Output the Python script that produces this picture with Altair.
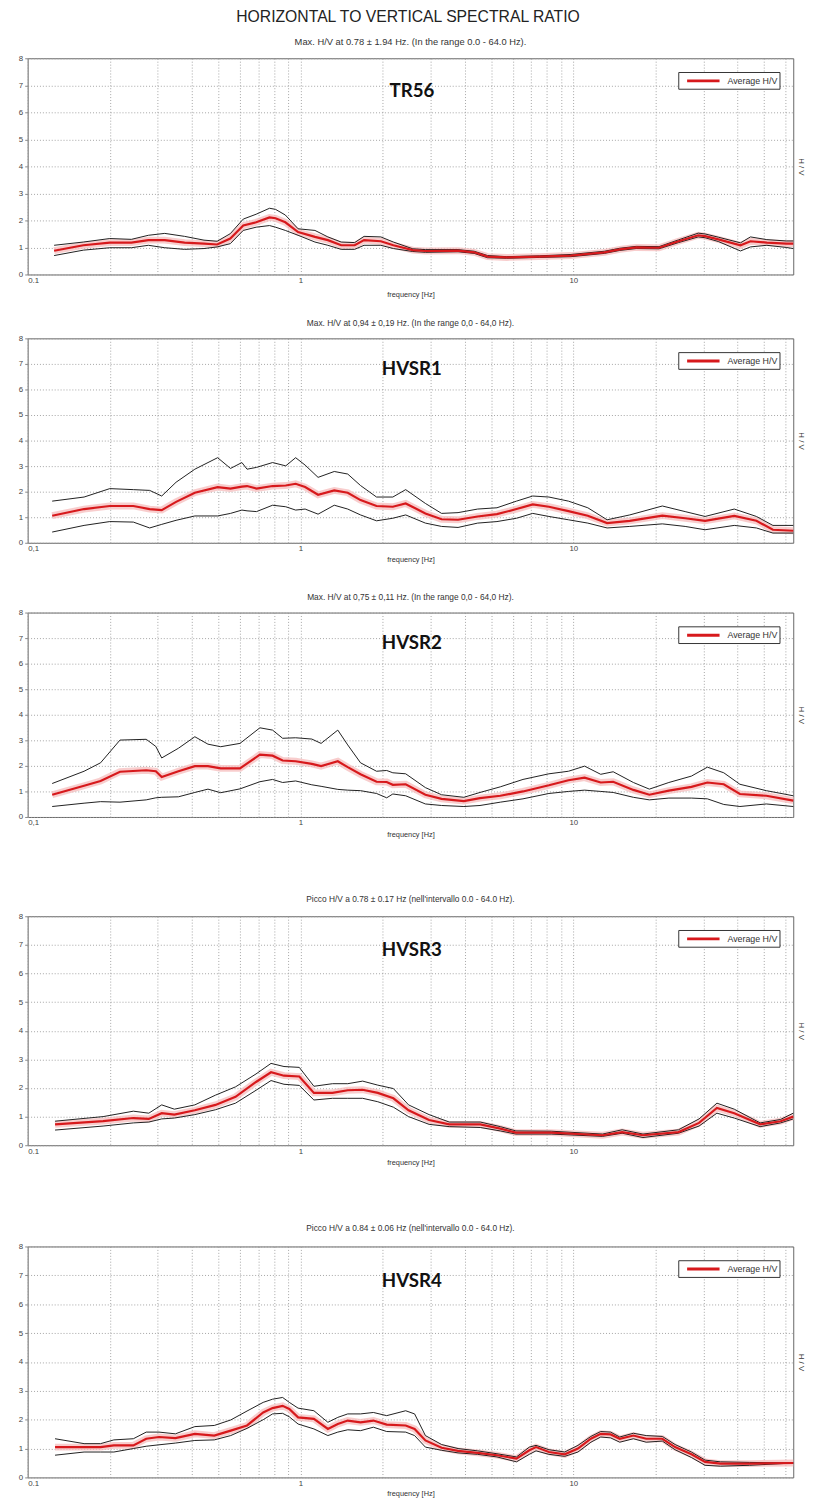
import altair as alt
import pandas as pd

TITLE = "HORIZONTAL TO VERTICAL SPECTRAL RATIO"
LEGEND_LABEL = "Average H/V"
X_TITLE = "frequency [Hz]"
GRID_X = [0.1, 0.2, 0.3, 0.4, 0.5, 0.6, 0.7, 0.8, 0.9, 1, 2, 3, 4, 5, 6, 7, 8, 9, 10, 20, 30, 40, 50, 60]
Y_TICKS = [0, 1, 2, 3, 4, 5, 6, 7, 8]

# ---- Panel 1: TR56
P1_NAME = "TR56"
P1_SUB = "Max. H/V at 0.78 \u00b1 1.94 Hz. (In the range 0.0 - 64.0 Hz)."
P1_F = [0.125, 0.16, 0.2, 0.24, 0.277, 0.318, 0.376, 0.443, 0.495, 0.553, 0.617, 0.688, 0.77, 0.81, 0.88,
        0.98, 1.13, 1.26, 1.41, 1.58, 1.71, 1.97, 2.19, 2.58, 2.87, 3.78, 4.33, 4.85, 5.7, 7.5, 9.8, 13.0,
        14.8, 17.0, 20.6, 24.3, 28.7, 30.4, 34.0, 41.0, 44.6, 51.2, 60.3, 64]
P1_MEAN = [0.88, 1.08, 1.18, 1.18, 1.27, 1.27, 1.18, 1.14, 1.11, 1.33, 1.81, 1.93, 2.11, 2.08, 1.93,
           1.57, 1.39, 1.27, 1.08, 1.08, 1.27, 1.23, 1.08, 0.9, 0.87, 0.88, 0.82, 0.66, 0.63, 0.66, 0.7, 0.82,
           0.93, 1.0, 0.99, 1.23, 1.45, 1.42, 1.3, 1.08, 1.23, 1.18, 1.14, 1.14]
P1_UP = [1.08, 1.2, 1.33, 1.3, 1.45, 1.52, 1.41, 1.27, 1.23, 1.51, 2.05, 2.23, 2.45, 2.41, 2.2,
         1.69, 1.63, 1.39, 1.2, 1.18, 1.41, 1.39, 1.2, 0.95, 0.92, 0.92, 0.86, 0.7, 0.66, 0.69, 0.74, 0.86,
         0.97, 1.04, 1.03, 1.28, 1.53, 1.5, 1.38, 1.17, 1.39, 1.29, 1.24, 1.24]
P1_LO = [0.7, 0.9, 0.99, 0.99, 1.08, 0.99, 0.93, 0.96, 1.02, 1.14, 1.63, 1.75, 1.81, 1.75, 1.63,
         1.45, 1.2, 1.08, 0.93, 0.93, 1.08, 1.08, 0.96, 0.85, 0.82, 0.84, 0.78, 0.62, 0.6, 0.63, 0.66, 0.78,
         0.89, 0.96, 0.95, 1.18, 1.39, 1.36, 1.22, 0.87, 1.02, 1.08, 1.0, 0.96]

# ---- Panel 2: HVSR1
P2_NAME = "HVSR1"
P2_SUB = "Max. H/V at 0,94 \u00b1 0,19 Hz. (In the range 0,0 - 64,0 Hz)."
P2_F = [0.123, 0.161, 0.2, 0.244, 0.28, 0.31, 0.35, 0.41, 0.497, 0.554, 0.61, 0.637, 0.69, 0.79, 0.883,
        0.96, 1.04, 1.16, 1.33, 1.49, 1.66, 1.9, 2.18, 2.43, 2.87, 3.29, 3.78, 4.46, 5.25, 6.19, 7.1, 8.14,
        9.6, 11.3, 13.3, 16.1, 21.2, 25.7, 30.4, 38.9, 46.9, 53.9, 64]
P2_MEAN = [1.06, 1.32, 1.44, 1.44, 1.32, 1.28, 1.6, 1.96, 2.18, 2.12, 2.2, 2.22, 2.12, 2.22, 2.24,
           2.31, 2.18, 1.88, 2.05, 1.96, 1.67, 1.44, 1.41, 1.54, 1.15, 0.92, 0.9, 1.03, 1.12, 1.32, 1.5, 1.41,
           1.24, 1.06, 0.77, 0.86, 1.06, 0.96, 0.86, 1.05, 0.86, 0.51, 0.47]
P2_UP = [1.63, 1.79, 2.12, 2.08, 2.05, 1.83, 2.37, 2.88, 3.33, 2.91, 3.14, 2.88, 2.95, 3.14, 3.01,
         3.33, 3.04, 2.56, 2.79, 2.69, 2.24, 1.79, 1.79, 2.08, 1.54, 1.15, 1.18, 1.32, 1.37, 1.63, 1.83, 1.79,
         1.63, 1.37, 0.9, 1.09, 1.44, 1.22, 1.03, 1.32, 1.03, 0.68, 0.68]
P2_LO = [0.42, 0.68, 0.83, 0.81, 0.58, 0.72, 0.88, 1.05, 1.05, 1.15, 1.28, 1.25, 1.22, 1.47, 1.41,
         1.28, 1.32, 1.12, 1.47, 1.32, 1.09, 0.86, 0.96, 1.09, 0.77, 0.64, 0.6, 0.77, 0.83, 0.96, 1.15, 1.03,
         0.9, 0.77, 0.58, 0.64, 0.74, 0.64, 0.51, 0.68, 0.58, 0.38, 0.38]

# ---- Panel 3: HVSR2
P3_NAME = "HVSR2"
P3_SUB = "Max. H/V at 0,75 \u00b1 0,11 Hz. (In the range 0,0 - 64,0 Hz)."
P3_F = [0.123, 0.161, 0.185, 0.218, 0.272, 0.295, 0.31, 0.357, 0.41, 0.458, 0.51, 0.6, 0.71, 0.79, 0.86,
        0.96, 1.1, 1.19, 1.37, 1.49, 1.66, 1.9, 2.07, 2.18, 2.43, 2.87, 3.29, 3.97, 4.55, 5.4, 6.54, 8.14,
        9.6, 11, 12.6, 14, 16.6, 19, 22.4, 27.1, 31, 35.6, 40.8, 51, 64]
P3_MEAN = [0.87, 1.22, 1.41, 1.77, 1.83, 1.79, 1.56, 1.79, 1.99, 1.99, 1.9, 1.9, 2.44, 2.4, 2.21,
           2.18, 2.08, 1.99, 2.18, 1.95, 1.67, 1.38, 1.37, 1.26, 1.28, 0.87, 0.71, 0.62, 0.74, 0.83, 1.0, 1.24,
           1.44, 1.54, 1.35, 1.38, 1.06, 0.87, 1.03, 1.18, 1.35, 1.28, 0.9, 0.83, 0.64]
P3_UP = [1.31, 1.79, 2.12, 3.01, 3.04, 2.76, 2.31, 2.69, 3.14, 2.85, 2.75, 2.88, 3.49, 3.4, 3.08,
         3.1, 3.05, 2.88, 3.4, 2.82, 2.12, 1.79, 1.82, 1.73, 1.69, 1.15, 0.87, 0.77, 0.96, 1.18, 1.47, 1.69,
         1.79, 1.99, 1.67, 1.77, 1.35, 1.09, 1.35, 1.6, 1.95, 1.73, 1.28, 1.03, 0.83]
P3_LO = [0.41, 0.54, 0.6, 0.58, 0.67, 0.75, 0.77, 0.79, 0.96, 1.09, 0.95, 1.1, 1.38, 1.47, 1.35,
         1.41, 1.26, 1.2, 1.08, 1.05, 1.03, 0.92, 0.75, 0.9, 0.83, 0.51, 0.45, 0.41, 0.45, 0.58, 0.71, 0.92,
         1.0, 1.05, 1.0, 0.96, 0.77, 0.67, 0.74, 0.74, 0.71, 0.49, 0.41, 0.51, 0.41]

# ---- Panel 4: HVSR3
P4_NAME = "HVSR3"
P4_SUB = "Picco H/V a 0.78 \u00b1 0.17 Hz (nell'intervallo 0.0 - 64.0 Hz)."
P4_F = [0.126, 0.189, 0.244, 0.278, 0.31, 0.345, 0.41, 0.488, 0.578, 0.687, 0.78, 0.87, 0.99, 1.12, 1.31,
        1.49, 1.69, 1.92, 2.19, 2.49, 2.96, 3.51, 4.56, 5.4, 6.16, 8.3, 12.8, 15.1, 18, 24.3, 28.9, 33.6,
        38.9, 48.4, 57.5, 64]
P4_MEAN = [0.73, 0.84, 0.95, 0.92, 1.12, 1.07, 1.22, 1.41, 1.69, 2.21, 2.55, 2.43, 2.4, 1.83, 1.83,
           1.92, 1.94, 1.83, 1.64, 1.22, 0.88, 0.73, 0.73, 0.58, 0.44, 0.44, 0.35, 0.46, 0.35, 0.46, 0.78, 1.3,
           1.12, 0.73, 0.84, 1.0]
P4_UP = [0.84, 1.0, 1.19, 1.12, 1.41, 1.26, 1.41, 1.75, 2.04, 2.49, 2.86, 2.75, 2.72, 2.06, 2.15,
         2.15, 2.24, 2.1, 1.98, 1.41, 1.07, 0.81, 0.81, 0.65, 0.5, 0.49, 0.39, 0.54, 0.39, 0.54, 0.92, 1.47,
         1.26, 0.78, 0.9, 1.12]
P4_LO = [0.53, 0.67, 0.78, 0.81, 0.92, 0.95, 1.07, 1.24, 1.47, 1.92, 2.26, 2.13, 2.09, 1.58, 1.64,
         1.64, 1.64, 1.52, 1.33, 1.0, 0.73, 0.65, 0.62, 0.5, 0.39, 0.39, 0.31, 0.42, 0.27, 0.42, 0.67, 1.12,
         0.95, 0.65, 0.78, 0.92]

# ---- Panel 5: HVSR4
P5_NAME = "HVSR4"
P5_SUB = "Picco H/V a 0.84 \u00b1 0.06 Hz (nell'intervallo 0.0 - 64.0 Hz)."
P5_F = [0.126, 0.161, 0.185, 0.207, 0.244, 0.272, 0.303, 0.348, 0.41, 0.483, 0.555, 0.637, 0.73, 0.79,
        0.86, 0.91, 0.98, 1.12, 1.26, 1.37, 1.49, 1.66, 1.85, 2.07, 2.43, 2.62, 2.87, 3.29, 3.78, 4.46, 5.25,
        6.19, 6.9, 7.3, 8.14, 9.3, 10.4, 11.6, 12.6, 13.7, 14.8, 16.6, 18.5, 21.2, 23.6, 27.1, 30.4, 34.6,
        44.3, 64]
P5_MEAN = [1.05, 1.05, 1.05, 1.11, 1.11, 1.34, 1.4, 1.36, 1.51, 1.45, 1.62, 1.8, 2.25, 2.4,
           2.48, 2.37, 2.08, 2.03, 1.68, 1.85, 1.97, 1.91, 1.97, 1.83, 1.8, 1.68, 1.28, 1.03, 0.92, 0.85, 0.77,
           0.65, 0.94, 1.05, 0.88, 0.8, 1.0, 1.34, 1.51, 1.49, 1.34, 1.45, 1.34, 1.34, 1.05, 0.8, 0.54, 0.48,
           0.48, 0.5]
P5_UP = [1.34, 1.17, 1.17, 1.3, 1.34, 1.57, 1.57, 1.51, 1.76, 1.8, 1.99, 2.3, 2.6, 2.71,
         2.77, 2.6, 2.4, 2.31, 1.91, 2.08, 2.2, 2.2, 2.25, 2.14, 2.31, 2.2, 1.45, 1.14, 1.0, 0.92, 0.82,
         0.71, 1.05, 1.11, 0.96, 0.88, 1.11, 1.42, 1.59, 1.57, 1.4, 1.53, 1.45, 1.42, 1.14, 0.88, 0.6, 0.54,
         0.52, 0.5]
P5_LO = [0.77, 0.88, 0.88, 0.88, 1.0, 1.08, 1.13, 1.19, 1.28, 1.3, 1.45, 1.7, 2.0, 2.2,
         2.22, 2.1, 1.85, 1.68, 1.45, 1.57, 1.65, 1.62, 1.74, 1.59, 1.57, 1.45, 1.05, 0.94, 0.85, 0.8, 0.71,
         0.54, 0.8, 0.92, 0.8, 0.73, 0.88, 1.22, 1.4, 1.37, 1.22, 1.34, 1.22, 1.26, 0.96, 0.69, 0.42, 0.39,
         0.42, 0.5]

FONT = "Liberation Sans"
RED = "#d7191c"
PLOT_W = 779


def panel(name, sub, F, MEAN, UP, LO, height, comma, sub_size, sub_offset, title_pad, gap_extra):
    df = pd.DataFrame({"f": F, "mean": MEAN, "up": UP, "lo": LO})
    zero_one = "'0,1'" if comma else "'0.1'"
    xaxis = alt.Axis(
        values=GRID_X,
        labelExpr=f"datum.value == 0.1 ? {zero_one} : (datum.value == 1 ? '1' : (datum.value == 10 ? '10' : ''))",
        labelFlush=True,
        title=[X_TITLE, " "] if gap_extra > 0 else X_TITLE,
        titleLineHeight=gap_extra if gap_extra > 0 else 8,
        titleFontSize=7.5, titleFontWeight="normal", titleColor="#333", titlePadding=title_pad,
        labelFontSize=8, labelColor="#444", labelPadding=2,
        ticks=False, domain=False,
        grid=True, gridDash=[1, 2], gridColor="#999", gridOpacity=0.9,
    )
    xs = alt.Scale(type="log", domain=[0.1, 64], nice=False)
    ys = alt.Scale(domain=[0, 8], nice=False)
    x = alt.X("f:Q", scale=xs, axis=xaxis)
    left_axis = alt.Axis(values=Y_TICKS, title=None, labelFontSize=8, labelColor="#444", ticks=True,
                         tickSize=3, tickColor="#888", domain=False, grid=True, gridDash=[1, 2],
                         gridColor="#999", gridOpacity=0.9, minExtent=19, maxExtent=19, labelPadding=2)
    right_axis = alt.Axis(orient="right", title="H / V", labels=False, ticks=False, domain=False,
                          grid=False, titleFontSize=8, titleFontWeight="normal", titleColor="#333",
                          titlePadding=3, minExtent=0)
    base = alt.Chart(df)
    halo = base.mark_line(color="#f5bcbc", strokeWidth=7, opacity=0.75).encode(
        x=x, y=alt.Y("mean:Q", scale=ys, axis=left_axis))
    upper = base.mark_line(color="#1e1e1e", strokeWidth=1).encode(
        x=x, y=alt.Y("up:Q", scale=ys, axis=right_axis))
    lower = base.mark_line(color="#1e1e1e", strokeWidth=1).encode(
        x=x, y=alt.Y("lo:Q", scale=ys, axis=None))
    red = base.transform_calculate(series=f"'{LEGEND_LABEL}'").mark_line(strokeWidth=2.2).encode(
        x=x, y=alt.Y("mean:Q", scale=ys, axis=None),
        color=alt.Color("series:N", scale=alt.Scale(domain=[LEGEND_LABEL], range=[RED]),
                        legend=alt.Legend(title=None, orient="top-right", offset=14, strokeColor="#333",
                                          fillColor="white", padding=2, symbolType="M0,0H6",
                                          symbolSize=121, symbolStrokeWidth=3, labelFontSize=9,
                                          labelFont=FONT, labelColor="#333", labelOffset=34)))
    lab = alt.Chart(pd.DataFrame({"f": [2.56], "v": [6.8], "t": [name]})).mark_text(
        font="Lato", fontWeight="bold", fontSize=19, color="#111").encode(
        x=x, y=alt.Y("v:Q", scale=ys, axis=None), text="t:N")
    return alt.layer(halo, upper, lower, red, lab).resolve_axis(y="independent").properties(
        width=PLOT_W, height=height,
        title=alt.TitleParams(sub, fontSize=sub_size, fontWeight="normal", font=FONT, color="#333",
                              anchor="middle", offset=sub_offset))


panels = [
    panel(P1_NAME, P1_SUB, P1_F, P1_MEAN, P1_UP, P1_LO, 220, False, 9.5, 8, 6, 3),
    panel(P2_NAME, P2_SUB, P2_F, P2_MEAN, P2_UP, P2_LO, 208, True, 8.5, 7, 3, 12),
    panel(P3_NAME, P3_SUB, P3_F, P3_MEAN, P3_UP, P3_LO, 208, True, 8.5, 7, 4, 39),
    panel(P4_NAME, P4_SUB, P4_F, P4_MEAN, P4_UP, P4_LO, 233, False, 8.5, 9, 4, 40),
    panel(P5_NAME, P5_SUB, P5_F, P5_MEAN, P5_UP, P5_LO, 235, False, 8.5, 10, 2, 0),
]

chart = alt.vconcat(*panels, spacing=18).resolve_scale(color="independent").properties(
    title=alt.TitleParams(TITLE, fontSize=16, fontWeight="normal", font=FONT, color="#222",
                          anchor="middle", offset=12),
    padding={"left": 0, "right": 0, "top": -12, "bottom": 0},
).configure_view(stroke="#666", strokeWidth=1).configure_axis(labelFont=FONT, titleFont=FONT)

chart.save("out.html", embed_options={"renderer": "svg", "actions": False})
